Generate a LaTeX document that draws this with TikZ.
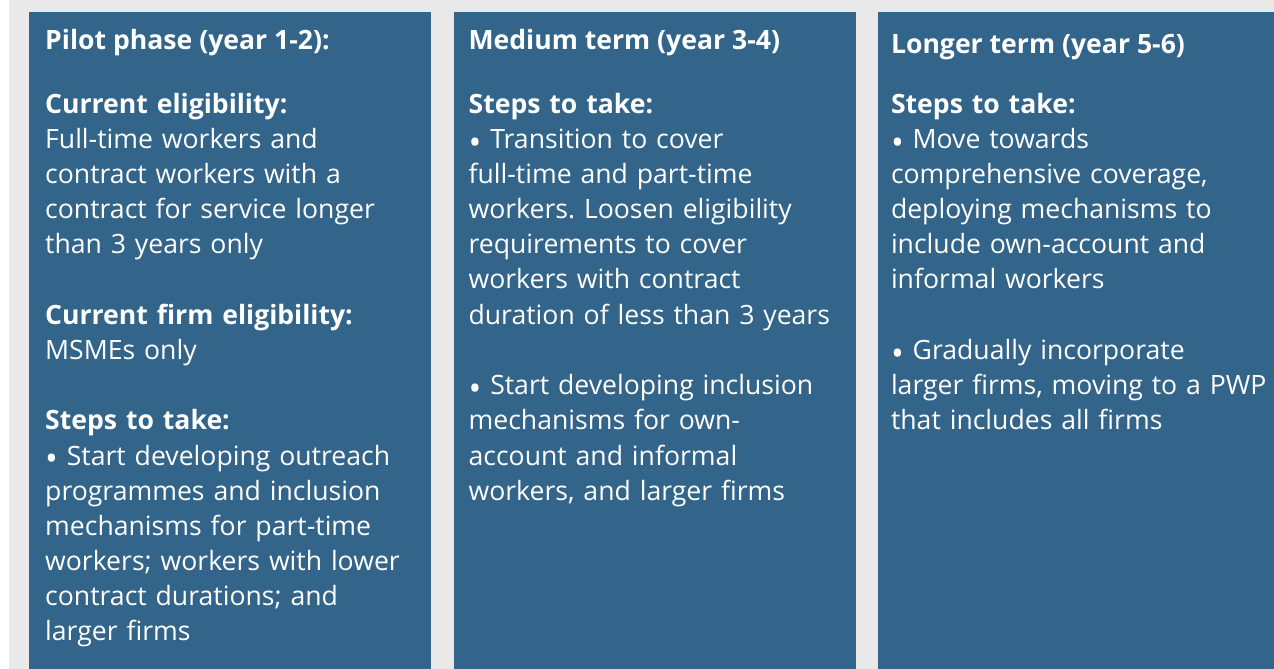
\documentclass[tikz,border=0pt]{standalone}
\usepackage{fontspec}
\setmainfont{Open Sans}[Ligatures=NoCommon]
\usepackage{tikz}
\usetikzlibrary{positioning}
\frenchspacing

\definecolor{panelblue}{HTML}{336489}
\definecolor{backgrey}{HTML}{E9E9E9}

\newcommand{\bigbullet}{{\fontsize{34}{35.2}\selectfont\raisebox{-6pt}{•}}}

\tikzset{
	panel/.style={fill=panelblue, draw=none, minimum width=402pt, minimum height=657pt, inner sep=0pt, anchor=north west},
	heading/.style={text=white, inner sep=0pt, font=\fontsize{26.6}{35.2}\selectfont\bfseries},
	body/.style={text=white, inner sep=0pt, text width=400pt, align=left, font=\fontsize{26.6}{35.2}\selectfont}
}

\begin{document}
\begin{tikzpicture}[x=1pt,y=-1pt]
		\useasboundingbox (0,0) rectangle (1274,669);
		\fill [backgrey] (9,0) rectangle (1274,669);
		\fill [white] (0,0) rectangle (9,669);

		% Panels
		\node [panel] at (29,12) (pilot) {};
		\node [panel, right=22pt of pilot.north east, anchor=north west] (medium) {};
		\node [panel, right=22pt of medium.north east, anchor=north west] (longer) {};

		% First Column
		\node [heading, below right=37pt and 16pt of pilot.north west, anchor=base west] (pilottitle) {Pilot phase (year 1-2):};
		\node [body, below=64pt of pilottitle.base west, anchor=base west] (pilotbody) {\textbf{Current eligibility:}\\
			Full-time workers and\\
			contract workers with a\\
			contract for service longer\\
			than 3 years only\\[35.2pt]
			\textbf{Current firm eligibility:}\\
			MSMEs only\\[35.2pt]
			\textbf{Steps to take:}\\
			\bigbullet{} Start developing outreach\\
			programmes and inclusion\\
			mechanisms for part-time\\
			workers; workers with lower\\
			contract durations; and\\
			larger firms};

		% Second Column
		\node [heading, below right=37pt and 15pt of medium.north west, anchor=base west] (mediumtitle) {Medium term (year 3-4)};
		\node [body, below=64pt of mediumtitle.base west, anchor=base west] (mediumbody) {\textbf{Steps to take:}\\
			\bigbullet{} Transition to cover\\
			full-time and part-time\\
			workers. Loosen eligibility\\
			requirements to cover\\
			workers with contract\\
			duration of less than 3 years\\[35.2pt]
			\bigbullet{} Start developing inclusion\\
			mechanisms for own-\\
			account and informal\\
			workers, and larger firms};

		% Third Column
		\node [heading, below right=41pt and 13pt of longer.north west, anchor=base west] (longertitle) {Longer term (year 5-6)};
		\node [body, below=60pt of longertitle.base west, anchor=base west] (longerbody) {\textbf{Steps to take:}\\
			\bigbullet{} Move towards\\
			comprehensive coverage,\\
			deploying mechanisms to\\
			include own-account and\\
			informal workers\\[35.2pt]
			\bigbullet{} Gradually incorporate\\
			larger firms, moving to a PWP\\
			that includes all firms};
\end{tikzpicture}
\end{document}
